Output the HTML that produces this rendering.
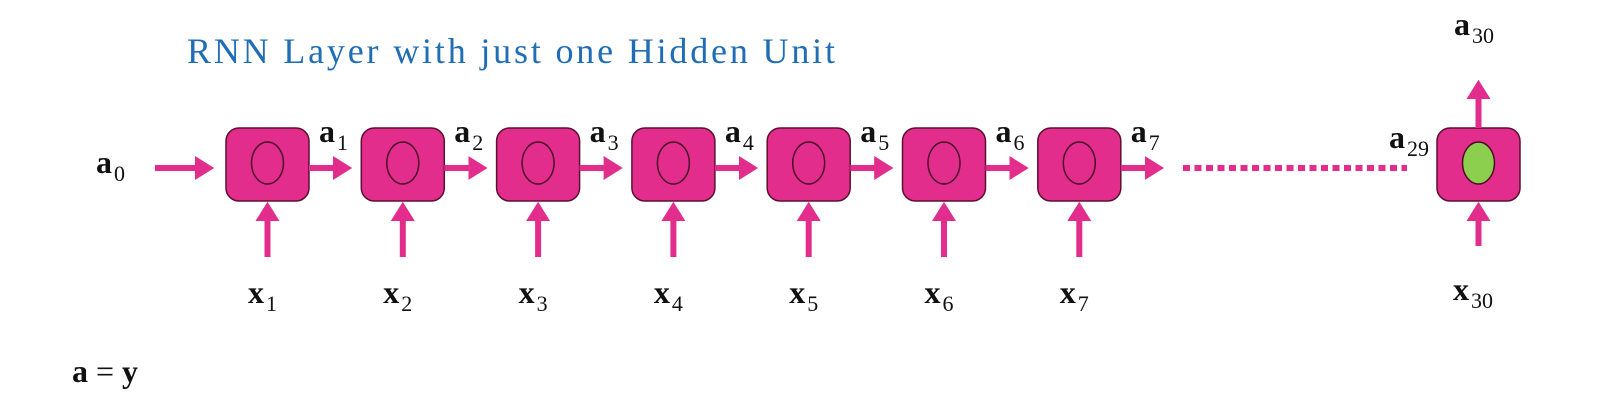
<!DOCTYPE html>
<html><head><meta charset="utf-8"><style>
html,body{margin:0;padding:0;background:#fff;width:1615px;height:404px;overflow:hidden}
svg text{font-family:"Liberation Serif",serif}
</style></head><body>
<svg id="c" width="1615" height="404" viewBox="0 0 1615 404">
<defs>
<marker id="ah" markerWidth="4" markerHeight="4" refX="1.5" refY="2" orient="auto" markerUnits="strokeWidth">
<path d="M0,0 L3.2,2 L0,4 Z" fill="#e22d8d"/></marker>
</defs>
<text x="187" y="63" font-size="36" fill="#1f6db5" textLength="648" lengthAdjust="spacing">RNN Layer with just one Hidden Unit</text>
<text x="72" y="382" font-size="32" fill="#111"><tspan font-weight="bold">a</tspan> = <tspan font-weight="bold">y</tspan></text>
<g id="cells"></g>
</svg>
<script>
const steps = [1,2,3,4,5,6,7];
const lastStep = 30;
const svg = document.getElementById('cells');
const NS = 'http://www.w3.org/2000/svg';
const pink = '#e22d8d';
function el(tag, attrs, parent){const e=document.createElementNS(NS,tag);for(const k in attrs)e.setAttribute(k,attrs[k]);(parent||svg).appendChild(e);return e;}
function label(x,y,main,sub,name){
  const t=el('text',{x:x,y:y,'font-size':32,fill:'#111'});
  
  
  const a=el('tspan',{'font-weight':'bold'},t);a.textContent=main;
  const b=el('tspan',{'font-size':22,dy:8,dx:2},t);b.textContent=sub;
  return t;
}
function cell(x,green,name){
  const g=el('g',{});
  
  
  el('rect',{x:x,y:128,width:83,height:73,rx:13,fill:'#e22d8d',stroke:'#5a1030','stroke-width':1.5},g);
  el('ellipse',{cx:x+41.5,cy:163,rx:16,ry:21,fill:green?'#8ccf4e':'none',stroke:'#4a0c28','stroke-width':1.5},g);
  return g;
}
function arrow(x1,y1,x2,y2,name){
  const l=el('line',{x1:x1,y1:y1,x2:x2,y2:y2,stroke:pink,'stroke-width':6,'marker-end':'url(#ah)'});
  
  
}
const x0=226, dx=135.3;
label(96,173,'a','0','label-a0');
arrow(155,168,204,168,'arrow-a0');
steps.forEach((s,i)=>{
  const x=x0+i*dx;
  cell(x,false,'rnn-cell-'+s);
  arrow(x+83,168,x+116,168,'arrow-a'+s);
  label(x+93,142,'a',String(s),'label-a'+s);
  arrow(x+41.5,257,x+41.5,212,'arrow-x'+s);
  label(x+22,303,'x',String(s),'label-x'+s);
});
const dl=el('line',{x1:1183,y1:168,x2:1407,y2:168,stroke:pink,'stroke-width':6,'stroke-dasharray':'7 4.5'});


const lx=1437;
cell(lx,true,'rnn-cell-'+lastStep);
label(1389,148,'a',String(lastStep-1),'label-a'+(lastStep-1));
arrow(lx+41.5,128,lx+41.5,90,'arrow-a'+lastStep);
label(1454,35,'a',String(lastStep),'label-a'+lastStep);
arrow(lx+41.5,246,lx+41.5,212,'arrow-x'+lastStep);
label(1453,300,'x',String(lastStep),'label-x'+lastStep);
</script>
</body></html>
